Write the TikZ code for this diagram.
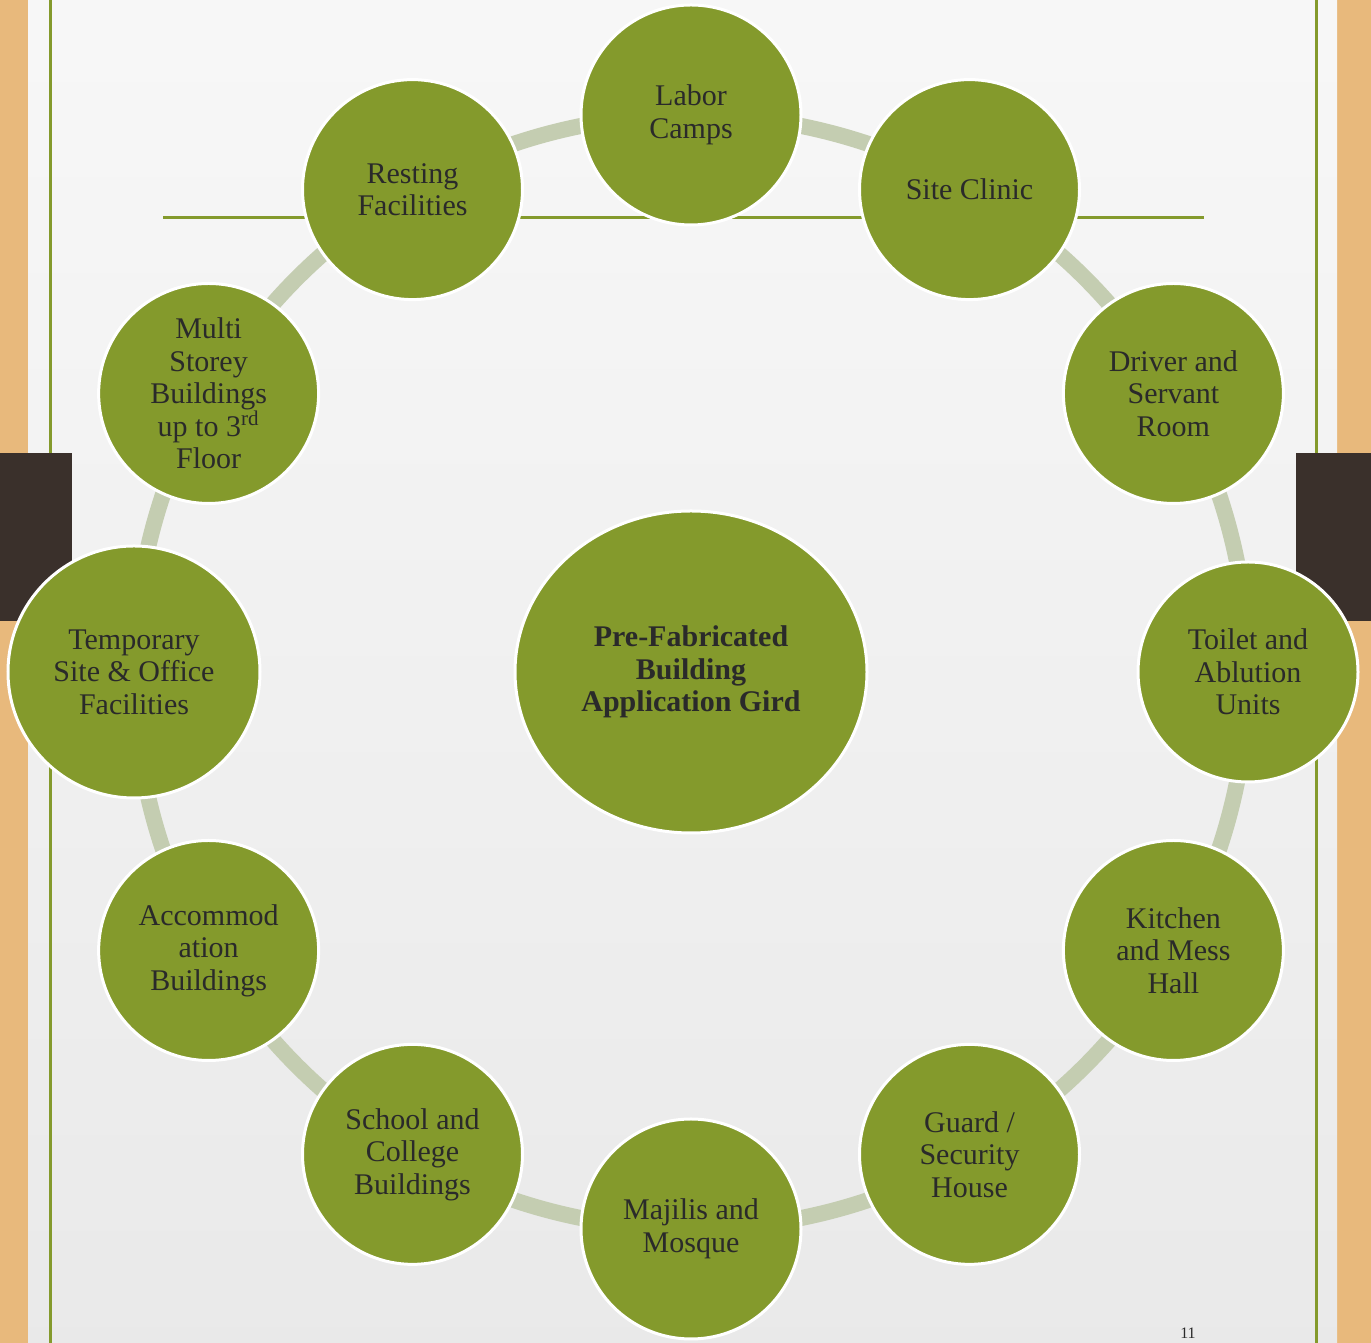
\documentclass[tikz,border=0pt]{standalone}
\usepackage{fontspec}
\setmainfont{Liberation Serif}
\usetikzlibrary{positioning,shapes.geometric,backgrounds}
\definecolor{leafgreen}{HTML}{849A2C}
\definecolor{sage}{HTML}{C4CDB1}
\definecolor{wood}{HTML}{E8B97C}
\definecolor{bark}{HTML}{3A302B}
\definecolor{inkgray}{HTML}{2A2A2A}

\begin{document}
\begin{tikzpicture}[x=.5pt,y=.5pt,
		item/.style={circle,fill=leafgreen,draw=white,line width=1.5pt,inner sep=0pt,
			minimum size=110pt,align=center,text=inkgray,font=\fontsize{15pt}{16.25pt}\selectfont},
		hub/.style={ellipse,fill=leafgreen,draw=white,line width=1.5pt,inner sep=0pt,
			minimum width=176pt,minimum height=161pt,align=center,text=inkgray,
			font=\fontsize{15pt}{16.25pt}\selectfont\bfseries},
		link/.style={draw=sage,line width=8pt},
		rule/.style={draw=leafgreen,line width=1.5pt}]
	\useasboundingbox (0,0) rectangle (1371,1343);
	\clip (0,0) rectangle (1371,1343);
	% wood, paper and frame
	\begin{scope}[on background layer]
		\fill[wood] (0,0) rectangle (1371,1343);
		\shade[top color=gray!6,bottom color=gray!17] (28,0) rectangle (1337,1343);
		\draw[rule] (50,0) -- (50,1343);
		\draw[rule] (1316,0) -- (1316,1343);
		\draw[rule] (163,1125) -- (1204,1125);
		\fill[bark] (0,722) rectangle (72,890);
		\fill[bark] (1296,722) rectangle (1371,890);
	\end{scope}
	\node[font=\fontsize{8pt}{9pt}\selectfont,text=inkgray,anchor=south,inner sep=1pt] (page) at (1188,2) {11};
	\begin{scope}[shift={(691,671)}]
		\node[hub] (grid) at (0,0) {Pre-Fabricated\\Building\\Application Gird};
		\node[item] (labor) at (90:557) {Labor\\Camps};
		\node[item] (clinic) at (60:557) {Site Clinic};
		\node[item] (driver) at (30:557) {Driver and\\Servant\\Room};
		\node[item] (toilet) at (0:557) {Toilet and\\Ablution\\Units};
		\node[item] (kitchen) at (-30:557) {Kitchen\\and Mess\\Hall};
		\node[item] (guard) at (-60:557) {Guard /\\Security\\House};
		\node[item] (mosque) at (-90:557) {Majilis and\\Mosque};
		\node[item] (school) at (-120:557) {School and\\College\\Buildings};
		\node[item] (accom) at (-150:557) {Accommod\\ation\\Buildings};
		\node[item,minimum size=126pt] (office) at (180:557) {Temporary\\Site \& Office\\Facilities};
		\node[item] (storey) at (150:557) {Multi\\Storey\\Buildings\\up to 3\textsuperscript{rd}\\Floor};
		\node[item] (resting) at (120:557) {Resting\\Facilities};
	\end{scope}
	% ring segments under the circles
	\begin{scope}[on background layer]
		\foreach \a/\b in {labor/clinic,clinic/driver,driver/toilet,toilet/kitchen,kitchen/guard,
				guard/mosque,mosque/school,school/accom,accom/office,office/storey,storey/resting,resting/labor}
			\draw[link] (\a.center) to[bend left=15,looseness=.87] (\b.center);
	\end{scope}
\end{tikzpicture}
\end{document}
